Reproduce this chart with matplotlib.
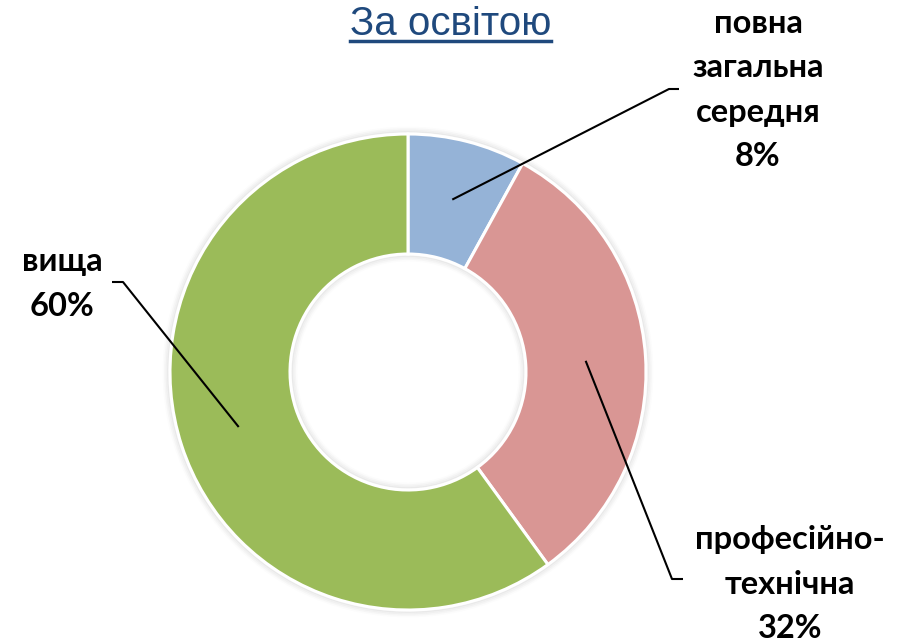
import numpy as np
import matplotlib.pyplot as plt
from matplotlib.patches import Circle

# data
categories = ["повна\nзагальна\nсередня", "професійно-\nтехнічна", "вища"]
shares = [8, 32, 60]
colors = ["#95B3D7", "#D99694", "#9BBB59"]
title = "За освітою"

W, H = 900, 641
cx, cy = 408, H - 372   # centre of donut (pixel coords, y up)
r_out, r_in = 238, 118

fig = plt.figure(figsize=(9, 6.41), dpi=100)
ax = fig.add_axes([0, 0, 1, 1])
ax.set_xlim(0, W)
ax.set_ylim(0, H)
ax.set_aspect("equal")
ax.axis("off")

# soft shadow around the ring
for i, a in enumerate([0.10, 0.07, 0.045, 0.025]):
    ax.add_patch(Circle((cx, cy), r_out + 1.5 + i * 1.5, fill=False,
                        ec="gray", lw=2, alpha=a, zorder=0))
    ax.add_patch(Circle((cx, cy), r_in - 1.5 - i * 1.5, fill=False,
                        ec="gray", lw=2, alpha=a, zorder=0))

wedges, _ = ax.pie(shares, colors=colors, startangle=90, counterclock=False,
                   radius=r_out, center=(cx, cy),
                   wedgeprops=dict(width=r_out - r_in, edgecolor="white", linewidth=2.2))
ax.set_xlim(0, W)
ax.set_ylim(0, H)

# leader lines: anchor at mid-ring, elbow and end points in pixel coords
elbows = [((669, 89), (679, 89)), ((672, 579), (683, 579)), ((123, 282), (112, 282))]
r_mid = (r_out + r_in) / 2
for w, (el, end) in zip(wedges, elbows):
    ang = np.deg2rad((w.theta1 + w.theta2) / 2)
    ax0 = cx + r_mid * np.cos(ang)
    ay0 = cy + r_mid * np.sin(ang)
    ax.plot([ax0, el[0], end[0]], [ay0, H - el[1], H - end[1]],
            color="black", lw=1.5, zorder=5, solid_capstyle="butt")

label_pos = [(758, 90), (790, 584), (62, 284)]
for cat, s, (lx, ly) in zip(categories, shares, label_pos):
    ax.text(lx, H - ly, f"{cat}\n{s}%", ha="center", va="center",
            fontsize=23.5, fontweight="bold", family="Lato", linespacing=1.63,
            color="black")

ax.text(451, H - 35, title, ha="center", va="baseline", fontsize=29,
        family="Liberation Sans", color="#1F497D")
ax.plot([350, 551], [H - 41, H - 41], color="#1F497D", lw=2.5)

fig.savefig("out.png", dpi=100)
